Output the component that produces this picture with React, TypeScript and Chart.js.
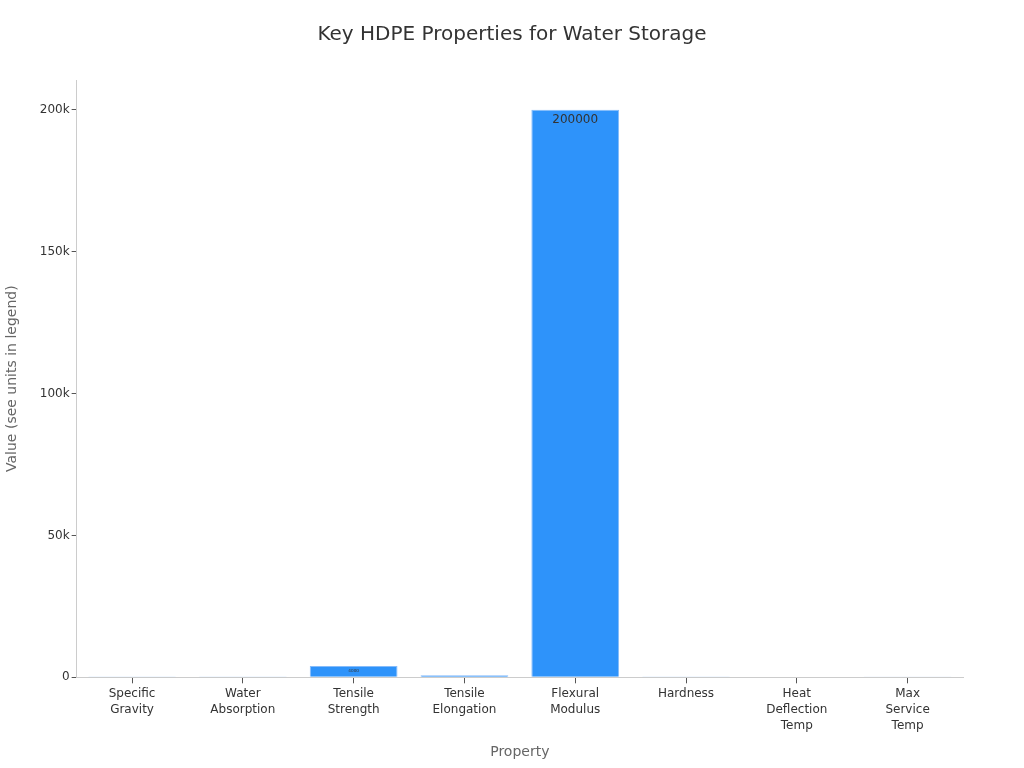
import React, { useEffect, useRef } from "react";
import { Chart, registerables } from "chart.js";

Chart.register(...registerables);

const titleText = "Key HDPE Properties for Water Storage";
const categories: string[][] = [
  ["Specific", "Gravity"],
  ["Water", "Absorption"],
  ["Tensile", "Strength"],
  ["Tensile", "Elongation"],
  ["Flexural", "Modulus"],
  ["Hardness"],
  ["Heat", "Deflection", "Temp"],
  ["Max", "Service", "Temp"],
];
const values: number[] = [0.95, 0.01, 4000, 700, 200000, 65, 170, 140];
const yTicks: number[] = [0, 50000, 100000, 150000, 200000];

const FONT = "'DejaVu Sans', sans-serif";

const labelPlugin = {
  id: "barLabels",
  afterDatasetsDraw(chart: any) {
    const ctx = chart.ctx;
    const meta = chart.getDatasetMeta(0);
    meta.data.forEach((bar: any, i: number) => {
      const h = Math.abs(bar.base - bar.y);
      const size = Math.min(12, h / 2.6);
      if (size < 2) return;
      const y = bar.y + Math.min(10, h / 2);
      ctx.save();
      ctx.fillStyle = "#333333";
      ctx.font = `${size}px ${FONT}`;
      ctx.textAlign = "center";
      ctx.textBaseline = "middle";
      ctx.fillText(String(values[i]), bar.x, y);
      ctx.restore();
    });
  },
};

const titlePlugin = {
  id: "centerTitle",
  afterDraw(chart: any) {
    const ctx = chart.ctx;
    ctx.save();
    ctx.fillStyle = "#333333";
    ctx.font = `20px ${FONT}`;
    ctx.textAlign = "center";
    ctx.textBaseline = "middle";
    ctx.fillText(titleText, chart.width / 2, 35);
    ctx.restore();
  },
};

export default function App() {
  const ref = useRef<HTMLCanvasElement | null>(null);
  useEffect(() => {
    document.body.style.margin = "0";
    const chart = new Chart(ref.current!, {
      type: "bar",
      data: {
        labels: categories,
        datasets: [
          {
            label: "Value",
            data: values,
            backgroundColor: "#2E93FA",
            borderColor: "rgba(120,180,250,0.9)",
            borderWidth: 1,
            categoryPercentage: 0.88,
            barPercentage: 0.9,
          },
        ],
      },
      options: {
        animation: false,
        responsive: false,
        layout: { padding: { left: 0, right: 61, top: 80, bottom: 3 } },
        plugins: {
          legend: { display: false },
          tooltip: { enabled: false },
          title: { display: false },
        },
        scales: {
          x: {
            grid: {
              display: true,
              offset: false,
              drawOnChartArea: false,
              drawTicks: true,
              tickLength: 6,
              color: "#cccccc",
              tickColor: "#555555",
            },
            border: { display: true, color: "#cccccc" },
            ticks: {
              color: "#333333",
              font: { family: FONT, size: 12, lineHeight: 1.33 },
              maxRotation: 0,
              autoSkip: false,
              padding: 3,
            },
            title: {
              display: true,
              text: "Property",
              color: "#666666",
              font: { family: FONT, size: 14 },
              padding: { top: 7 },
            },
          },
          y: {
            min: 0,
            max: 210500,
            afterBuildTicks: (axis: any) => {
              axis.ticks = yTicks.map((v) => ({ value: v }));
            },
            grid: {
              display: true,
              drawOnChartArea: false,
              drawTicks: true,
              tickLength: 5,
              color: "#cccccc",
              tickColor: "#555555",
            },
            border: { display: true, color: "#cccccc" },
            ticks: {
              color: "#333333",
              font: { family: FONT, size: 12 },
              padding: 2,
              callback: (v: any) => (v === 0 ? "0" : v / 1000 + "k"),
            },
            title: {
              display: true,
              text: "Value (see units in legend)",
              color: "#666666",
              font: { family: FONT, size: 14 },
              padding: { bottom: 17 },
            },
          },
        },
      },
      plugins: [labelPlugin, titlePlugin],
    });
    return () => chart.destroy();
  }, []);
  return <canvas ref={ref} width={1024} height={768} style={{ display: "block" }} />;
}
